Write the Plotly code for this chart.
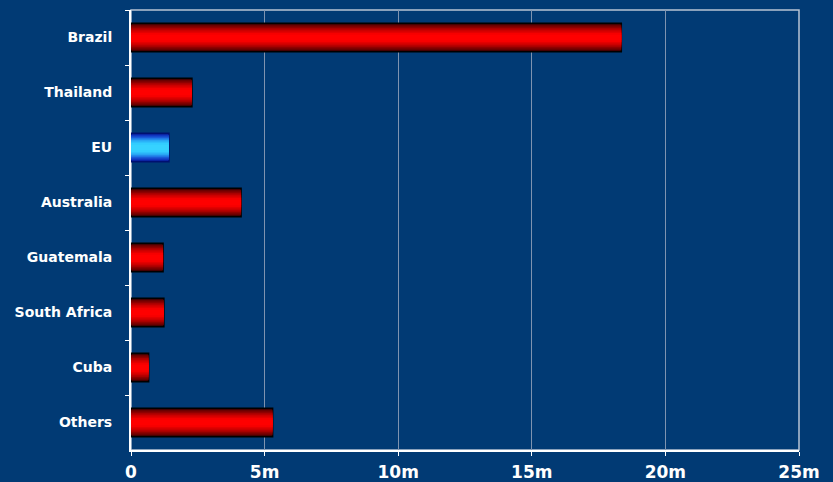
import plotly.graph_objects as go

categories = ["Brazil", "Thailand", "EU", "Australia", "Guatemala", "South Africa", "Cuba", "Others"]
values = [18.35, 2.28, 1.42, 4.12, 1.2, 1.23, 0.66, 5.3]  # millions
highlight = ["EU"]
x_tickvals = [0, 5, 10, 15, 20, 25]
x_ticktext = ["0", "5m", "10m", "15m", "20m", "25m"]

BG = "#013a74"
FONT = "DejaVu Sans, Verdana, sans-serif"

red_layers = ["#3a0000", "#6a0000", "#8e0000", "#b00000", "#cc0000", "#e40000", "#f60000", "#ff0000"]
blue_layers = ["#0a1f9a", "#1036c0", "#1a5ad8", "#2282ea", "#28a6f4", "#2ec0fc", "#32ccff", "#36d2ff"]

fig = go.Figure()
n = len(red_layers)
full_w = 0.52
for i in range(n):
    w = full_w * (1 - i / n * 0.92)
    cols = [blue_layers[i] if c in highlight else red_layers[i] for c in categories]
    line_cols = ["#001070" if c in highlight else "#000000" for c in categories]
    fig.add_trace(go.Bar(
        y=categories, x=values, orientation="h", width=w,
        marker=dict(color=cols,
                    line=dict(color=line_cols if i == 0 else cols, width=1.5 if i == 0 else 0)),
        hoverinfo="skip" if i else None, showlegend=False,
    ))

fig.update_layout(
    width=833, height=482,
    margin=dict(l=131, r=34, t=10, b=32),
    paper_bgcolor=BG, plot_bgcolor=BG,
    barmode="overlay",
    font=dict(family=FONT, color="white"),
    shapes=[dict(type="rect", xref="paper", yref="paper", x0=0, x1=1, y0=0, y1=1,
                 line=dict(color="#b8c4d4", width=1.5), layer="below")],
)
fig.update_xaxes(
    range=[0, 25], tickvals=x_tickvals, ticktext=x_ticktext,
    showgrid=True, gridcolor="#7e93b0", gridwidth=1,
    showline=True, linecolor="white", linewidth=2,
    ticks="outside", ticklen=4, tickcolor="white",
    tickfont=dict(size=17, family=FONT, weight="bold"),
    zeroline=False, automargin=False, ticklabelstandoff=2,
)
fig.update_yaxes(
    categoryorder="array", categoryarray=categories, autorange="reversed",
    showline=True, linecolor="white", linewidth=2,
    ticks="outside", ticklen=4, tickcolor="white", tickson="boundaries",
    tickfont=dict(size=14, family=FONT, weight="bold"),
    showgrid=False, ticklabelstandoff=14, automargin=False,
)

fig.write_html("out.html", config={"displayModeBar": False},
               post_script="document.body.style.margin='0';document.body.style.background='%s';" % BG)
